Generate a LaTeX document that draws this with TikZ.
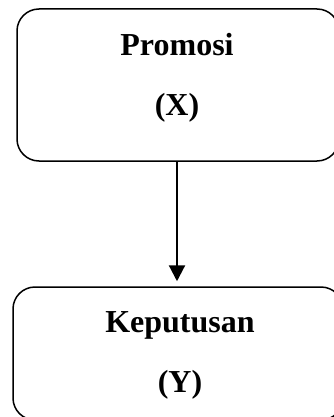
\documentclass[tikz,border=0pt]{standalone}
\usepackage{fontspec}
\setmainfont{Liberation Serif}
\usetikzlibrary{arrows.meta}
\begin{document}
\begin{tikzpicture}[x=1pt,y=1pt,
  boxstyle/.style={draw=black, line width=1.5pt, rounded corners=22pt, inner sep=0pt},
  lbl/.style={anchor=base, inner sep=0pt, font=\fontsize{32}{38}\selectfont\bfseries},
  arr/.style={line width=2.2pt, -{Triangle[length=16pt,width=16pt]}}]
\useasboundingbox (0,0) rectangle (334,-417);
\node[boxstyle, minimum width=322pt, minimum height=152pt] (a) at (178,-85) {};
\node[boxstyle, minimum width=330pt, minimum height=133pt] (b) at (178,-353.5) {};
\node[lbl] (t1) at (177,-56) {Promosi};
\node[lbl] (t2) at (177,-116) {(X)};
\node[lbl] (t3) at (180,-332) {Keputusan};
\node[lbl] (t4) at (180,-392) {(Y)};
\draw[arr, shorten >=5pt] (177,0 |- a.south) -- (177,0 |- b.north);
\end{tikzpicture}
\end{document}
